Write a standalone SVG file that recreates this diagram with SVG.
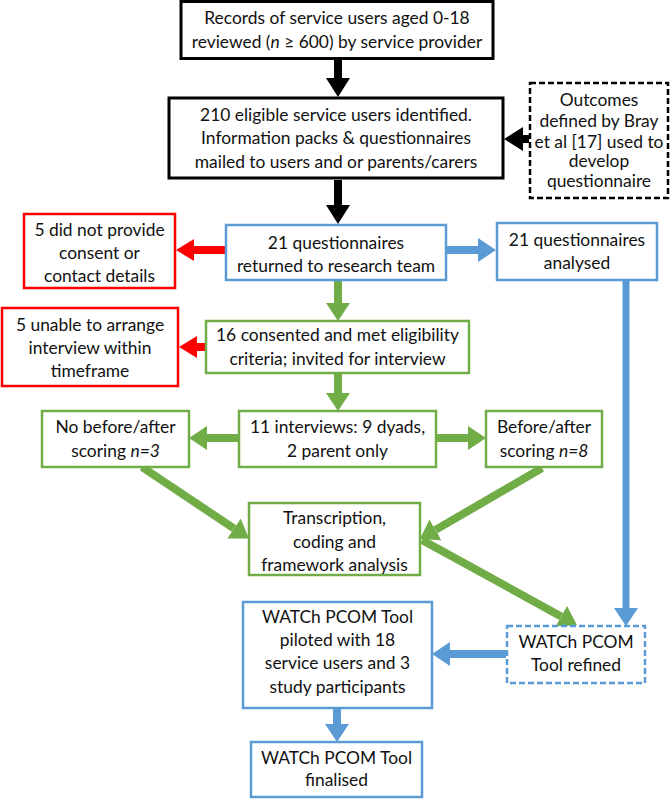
<svg xmlns="http://www.w3.org/2000/svg" width="672" height="800" viewBox="0 0 672 800">
<style>
text{font-family:Lato,"Liberation Sans",sans-serif;font-size:17.4px;fill:#111;text-anchor:middle}
.bk{fill:#fff;stroke:#000;stroke-width:3}
.bkd{fill:#fff;stroke:#000;stroke-width:2.5;stroke-dasharray:6 3}
.bl{fill:#fff;stroke:#5B9BD5;stroke-width:2.5}
.bld{fill:#fff;stroke:#5B9BD5;stroke-width:2.5;stroke-dasharray:6 3}
.gr{fill:#fff;stroke:#70AD47;stroke-width:2.5}
.rd{fill:#fff;stroke:#FF0000;stroke-width:2.5}
.a{fill:none;stroke-width:8}
.ak{stroke:#000}.ag{stroke:#70AD47}.ab{stroke:#5B9BD5}.ar{stroke:#FF0000}
</style>
<defs>
<marker id="hk" markerUnits="userSpaceOnUse" markerWidth="19" markerHeight="24" viewBox="0 0 19 24" refX="0" refY="12" orient="auto"><path d="M0,0L19,12L0,24z" fill="#000"/></marker>
<marker id="hg" markerUnits="userSpaceOnUse" markerWidth="18" markerHeight="24" viewBox="0 0 18 24" refX="0" refY="12" orient="auto"><path d="M0,0L18,12L0,24z" fill="#70AD47"/></marker>
<marker id="hb" markerUnits="userSpaceOnUse" markerWidth="18" markerHeight="24" viewBox="0 0 18 24" refX="0" refY="12" orient="auto"><path d="M0,0L18,12L0,24z" fill="#5B9BD5"/></marker>
<marker id="hr" markerUnits="userSpaceOnUse" markerWidth="18" markerHeight="22" viewBox="0 0 18 22" refX="0" refY="11" orient="auto"><path d="M0,0L18,11L0,22z" fill="#FF0000"/></marker>
</defs>
<g id="connectors">
<line class="a ak" x1="338" y1="59" x2="338" y2="78" marker-end="url(#hk)"/>
<line class="a ak" x1="529" y1="139" x2="523" y2="139" marker-end="url(#hk)"/>
<line class="a ak" x1="338" y1="180" x2="338" y2="205" marker-end="url(#hk)"/>
<line class="a ar" x1="225" y1="250" x2="194" y2="250" marker-end="url(#hr)"/>
<line class="a ab" x1="447" y1="250" x2="478" y2="250" marker-end="url(#hb)"/>
<line class="ab" style="fill:none;stroke-width:7" x1="626" y1="281" x2="626" y2="608" marker-end="url(#hb)"/>
<line class="a ag" x1="338" y1="281" x2="338" y2="303" marker-end="url(#hg)"/>
<line class="a ar" x1="205" y1="347" x2="197" y2="347" marker-end="url(#hr)"/>
<line class="a ag" x1="338" y1="374" x2="338" y2="393" marker-end="url(#hg)"/>
<line class="a ag" x1="238" y1="438" x2="207" y2="438" marker-end="url(#hg)"/>
<line class="a ag" x1="437" y1="438" x2="468" y2="438" marker-end="url(#hg)"/>
<line class="a ag" x1="142" y1="467" x2="234" y2="528.5" marker-end="url(#hg)"/>
<line class="a ag" x1="542" y1="468" x2="435.5" y2="529.9" marker-end="url(#hg)"/>
<line class="a ag" x1="422" y1="540" x2="561.2" y2="616.4" marker-end="url(#hg)"/>
<line class="a ab" x1="506" y1="654" x2="450" y2="654" marker-end="url(#hb)"/>
<line class="a ab" x1="337" y1="709" x2="337" y2="724" marker-end="url(#hb)"/>
</g>
<g id="n1"><rect class="bk" x="181" y="1.5" width="312" height="57"/>
<text x="337" y="24">Records of service users aged 0-18</text>
<text x="337" y="48">reviewed (<tspan font-style="italic">n</tspan> ≥ 600) by service provider</text></g>
<g id="n2"><rect class="bk" x="169" y="98" width="334" height="80"/>
<text x="336" y="121">210 eligible service users identified.</text>
<text x="336" y="144">Information packs &amp; questionnaires</text>
<text x="336" y="168">mailed to users and or parents/carers</text></g>
<g id="n3"><rect class="bkd" x="530" y="83" width="138" height="115"/>
<text x="599" y="106">Outcomes</text>
<text x="599" y="127">defined by Bray</text>
<text x="599" y="148">et al [17] used to</text>
<text x="599" y="167">develop</text>
<text x="599" y="187">questionnaire</text></g>
<g id="n4"><rect class="bl" x="226" y="225" width="220" height="55"/>
<text x="336" y="249">21 questionnaires</text>
<text x="336" y="272">returned to research team</text></g>
<g id="n5"><rect class="rd" x="24" y="214" width="151" height="74"/>
<text x="99.5" y="236">5 did not provide</text>
<text x="99.5" y="259">consent or</text>
<text x="99.5" y="282">contact details</text></g>
<g id="n6"><rect class="bl" x="497" y="223" width="160" height="57"/>
<text x="577" y="246">21 questionnaires</text>
<text x="577" y="269">analysed</text></g>
<g id="n7"><rect class="gr" x="206" y="321" width="263" height="52"/>
<text x="337.5" y="341">16 consented and met eligibility</text>
<text x="337.5" y="365">criteria; invited for interview</text></g>
<g id="n8"><rect class="rd" x="2" y="308" width="176" height="78"/>
<text x="90" y="331">5 unable to arrange</text>
<text x="90" y="354">interview within</text>
<text x="90" y="377">timeframe</text></g>
<g id="n9"><rect class="gr" x="239" y="411" width="197" height="56"/>
<text x="337.5" y="433">11 interviews: 9 dyads,</text>
<text x="337.5" y="457">2 parent only</text></g>
<g id="n10"><rect class="gr" x="42" y="411" width="147" height="56"/>
<text x="115.5" y="433">No before/after</text>
<text x="115.5" y="457">scoring <tspan font-style="italic">n=3</tspan></text></g>
<g id="n11"><rect class="gr" x="486" y="411" width="116" height="56"/>
<text x="544" y="433">Before/after</text>
<text x="544" y="457">scoring <tspan font-style="italic">n=8</tspan></text></g>
<g id="n12"><rect class="gr" x="249" y="503" width="171" height="72"/>
<text x="334.5" y="524">Transcription,</text>
<text x="334.5" y="548">coding and</text>
<text x="334.5" y="571">framework analysis</text></g>
<g id="n13"><rect class="bld" x="507" y="626" width="138" height="57"/>
<text x="576" y="648">WATCh PCOM</text>
<text x="576" y="671">Tool refined</text></g>
<g id="n14"><rect class="bl" x="243" y="602" width="189" height="106"/>
<text x="337.5" y="623">WATCh PCOM Tool</text>
<text x="337.5" y="646">piloted with 18</text>
<text x="337.5" y="669">service users and 3</text>
<text x="337.5" y="693">study participants</text></g>
<g id="n15"><rect class="bl" x="251" y="742" width="171" height="55"/>
<text x="336.5" y="764">WATCh PCOM Tool</text>
<text x="336.5" y="786">finalised</text></g>
</svg>
